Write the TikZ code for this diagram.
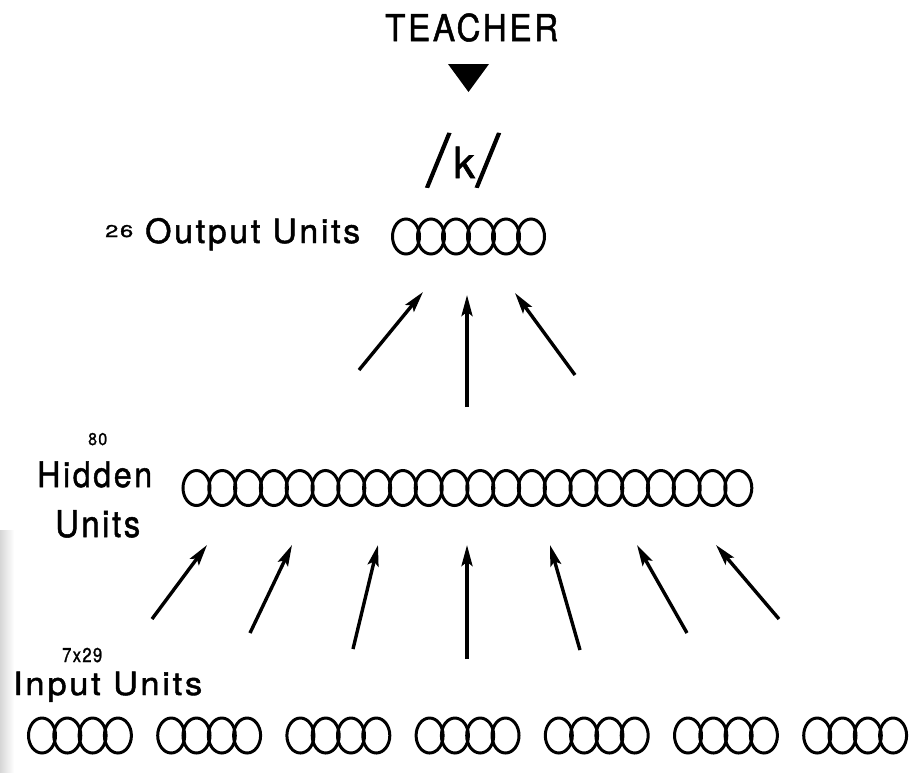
\documentclass[tikz,border=0pt]{standalone}
\usepackage{fontspec}
\setmainfont{TeX Gyre Heros}
\newfontfamily\lblfont[LetterSpace=8,FakeBold=1.4]{TeX Gyre Heros}
\newfontfamily\slashfont[FakeBold=2]{TeX Gyre Heros}
\usetikzlibrary{arrows.meta,shapes.geometric}
% label set at a given size, then stretched horizontally to a given width
\newcommand\fitlbl[3]{\resizebox{#1pt}{\height}{\fontsize{#2pt}{#2pt}\lblfont #3}}
% tall, more slanted slash used around the phoneme
\newcommand\tallslash{{\slashfont\raisebox{-9pt}{\rotatebox[origin=c]{-9}{\scalebox{1.3}[1.75]{/}}}}}

\begin{document}
\begin{tikzpicture}[x=1pt,y=-1pt,
  unit/.style={ellipse, draw, line width=3pt, minimum width=27pt, minimum height=35pt, inner sep=0pt},
  lbl/.style={anchor=base west, inner sep=0pt},
  conn/.style={line width=3.4pt, -{Stealth[length=21pt,width=11pt,inset=4pt]}}]

\fill[white] (0,0) rectangle (912,772);
\useasboundingbox (0,0) rectangle (912,772);
\shade[left color=black!16, right color=white] (0,530) rectangle (14,772);

% teacher signal
\node[lbl] (teacher) at (385,41) {\fitlbl{173}{37}{TEACHER}};
\fill (448,64) -- (489,64) -- (468.5,92) -- cycle;
\node[lbl] (target) at (426,178) {\fontsize{43pt}{43pt}\lblfont\tallslash\kern3pt k\kern1pt\tallslash};

% output layer
\node[lbl] (outnum) at (105,237) {\fitlbl{28}{17}{26}};
\node[lbl] (outlbl) at (145,243) {\fitlbl{215}{33.5}{Output Units}};
\foreach \k in {1,...,6}
  \node[unit] (o\k) at ({406+25*(\k-1)},236.5) {};

% hidden layer
\node[lbl] (hidnum) at (88,445) {\fitlbl{19}{17}{80}};
\node[lbl] (hidlbl) at (37,487) {\fitlbl{115}{35}{Hidden}};
\node[lbl] (hidlblb) at (55,537) {\fitlbl{85}{37}{Units}};
\foreach \k in {1,...,22}
  \node[unit] (h\k) at ({196.5+25.8*(\k-1)},488) {};

% input layer: seven groups of four
\node[lbl] (innum) at (62,662) {\fitlbl{40}{20}{7x29}};
\node[lbl] (inlbl) at (13,695) {\fitlbl{189}{32}{Input Units}};
\foreach \g in {0,...,6}
  \foreach \k in {0,...,3}
    \node[unit] (i\g-\k) at ({42+129.2*\g+25.3*\k},735.5) {};

% hidden -> output connections
\foreach \n/\tx/\ty/\hx/\hy in {1/359/370/423/292, 2/467/407/467/295, 3/575/375/515/293}{
  \coordinate (ot\n) at (\tx,\ty);
  \coordinate (oh\n) at (\hx,\hy);
  \draw[conn] (ot\n) -- (oh\n);
}

% input -> hidden connections
\foreach \n/\tx/\ty/\hx/\hy in {1/152/619/207/545, 2/250/633/292/545, 3/353/649/378/545,
    4/467/659/467/545, 5/580/650/550/545, 6/687/633/637/545, 7/779/619/716/545}{
  \coordinate (it\n) at (\tx,\ty);
  \coordinate (ih\n) at (\hx,\hy);
  \draw[conn] (it\n) -- (ih\n);
}
\end{tikzpicture}
\end{document}
